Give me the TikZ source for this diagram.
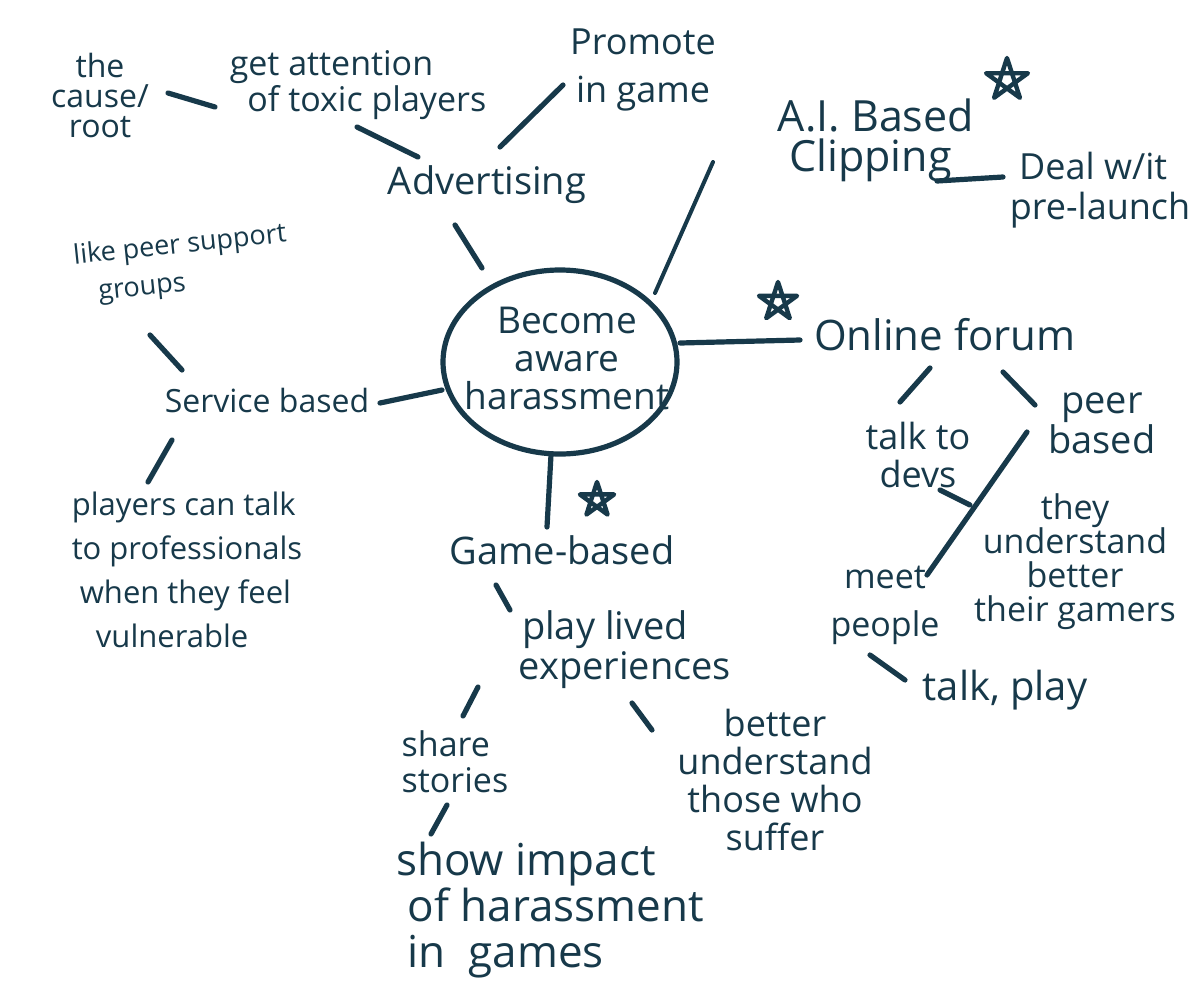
\documentclass[tikz,border=0pt]{standalone}
\usepackage{fontspec}
\setmainfont{Open Sans}
\usetikzlibrary{shapes.geometric}
\definecolor{ink}{HTML}{17394A}
\begin{document}
\begin{tikzpicture}[x=0.5pt,y=-0.5pt,
  conn/.style={draw=ink,line width=2.6pt,line cap=round},
  lbl/.style={text=ink,inner sep=0pt,align=center},
  lbll/.style={text=ink,inner sep=0pt,align=left},
  fs/.style 2 args={font=\fontsize{#1pt}{#2pt}\selectfont},
  handstar/.pic={\draw[conn,line width=2.2pt,line join=round]
     (90:#1) -- (234:#1) -- (18:#1) -- (162:#1) -- (306:#1) -- cycle;}
]
\fill[white] (0,0) rectangle (1200,986);
\useasboundingbox (0,0) rectangle (1200,986);

% centre
\node[ellipse,draw=ink,line width=2.6pt,minimum width=117pt,minimum height=92pt,inner sep=0pt] (circ) at (560,362) {};
\node[lbl,fs={18.5}{19}] (become) at (567,358) {Become\\aware\\harassment};

% top-left branch
\node[lbl,fs={16}{15}] (cause) at (100,95) {the\\cause/\\root};
\node[lbll,fs={17}{16}] (get) at (358,85) {get attention\\\ \ of toxic players};
\node[lbl,fs={18}{24}] (promote) at (643,70) {Promote\\in game};
\node[lbl,fs={19}{20}] (adv) at (487,185) {Advertising};

% top-right branch
\node[lbll,fs={21.5}{20}] (ai) at (876,140) {A.I. Based\\\ Clipping};
\pic at (1007,80) {handstar=11pt};
\node[lbll,fs={18}{20}] (deal) at (1100,190) {\ Deal w/it\\pre-launch};

% right branch
\pic at (778,302) {handstar=10pt};
\node[lbl,fs={21}{22}] (forum) at (945,335) {Online forum};
\node[lbl,fs={18}{19}] (talk) at (918,455) {talk to\\devs};
\node[lbl,fs={19}{18}] (peer) at (1102,423) {peer\\based};
\node[lbl,fs={17}{17}] (they) at (1075,562) {they\\understand\\better\\their gamers};
\node[lbl,fs={17}{24}] (meet) at (885,605) {meet\\people};
\node[lbl,fs={20}{20}] (tp) at (1005,690) {talk, play};

% left branch
\node[lbl,fs={16}{17}] (service) at (267,400) {Service based};
\node[lbll,fs={13.5}{19},rotate=6] (like) at (182,265) {like peer support\\\ \ \ groups};
\node[lbll,fs={15.5}{22}] (players) at (187,570) {players can talk\\to professionals\\\ when they feel\\\ \ \ vulnerable};

% bottom branch
\pic at (597,500) {handstar=9pt};
\node[lbl,fs={19}{20}] (game) at (562,550) {Game-based};
\node[lbl,fs={19}{20}] (play) at (605,650) {play lived\\\ \ \ \ experiences};
\node[lbll,fs={17}{18}] (share) at (455,762) {share\\stories};
\node[lbll,fs={22}{23}] (show) at (550,910) {show impact\\\ of harassment\\\ in \ games};
\node[lbl,fs={18}{19}] (better) at (775,780) {better\\understand\\those who\\suffer};

% connectors
\draw[conn] ([shift={(68,-2)}]cause.center) -- ([shift={(-143,22)}]get.center);
\draw[conn] ([shift={(-1,42)}]get.center) -- ([shift={(-69,-28)}]adv.center);
\draw[conn] ([shift={(13,-38)}]adv.center) -- ([shift={(-80,15)}]promote.center);
\draw[conn] ([shift={(-32,40)}]adv.center) -- ([shift={(-78,-94)}]circ.center);
\draw[conn,line width=2pt] ([shift={(95,-69)}]circ.center) -- ([shift={(-163,22)}]ai.center);
\draw[conn] ([shift={(61,41)}]ai.center) -- ([shift={(-97,-13)}]deal.center);
\draw[conn] ([shift={(120,-19)}]circ.center) -- ([shift={(-145,5)}]forum.center);
\draw[conn] ([shift={(-15,33)}]forum.center) -- ([shift={(-18,-53)}]talk.center);
\draw[conn] ([shift={(58,37)}]forum.center) -- ([shift={(-67,-18)}]peer.center);
\draw[conn] ([shift={(-75,9)}]peer.center) -- ([shift={(42,-30)}]meet.center);
\draw[conn] ([shift={(22,35)}]talk.center) -- ([shift={(-105,-57)}]they.center);
\draw[conn] ([shift={(-15,50)}]meet.center) -- ([shift={(-100,-10)}]tp.center);
\draw[conn] ([shift={(-118,28)}]circ.center) -- ([shift={(113,3)}]service.center);
\draw[conn] ([shift={(-32,70)}]like.center) -- ([shift={(-85,-30)}]service.center);
\draw[conn] ([shift={(-95,40)}]service.center) -- ([shift={(-39,-88)}]players.center);
\draw[conn] ([shift={(-9,93)}]circ.center) -- ([shift={(-15,-23)}]game.center);
\draw[conn] ([shift={(-66,35)}]game.center) -- ([shift={(-95,-40)}]play.center);
\draw[conn] ([shift={(-127,37)}]play.center) -- ([shift={(8,-46)}]share.center);
\draw[conn] ([shift={(-8,43)}]share.center) -- ([shift={(-119,-76)}]show.center);
\draw[conn] ([shift={(27,53)}]play.center) -- ([shift={(-123,-50)}]better.center);
\end{tikzpicture}
\end{document}
